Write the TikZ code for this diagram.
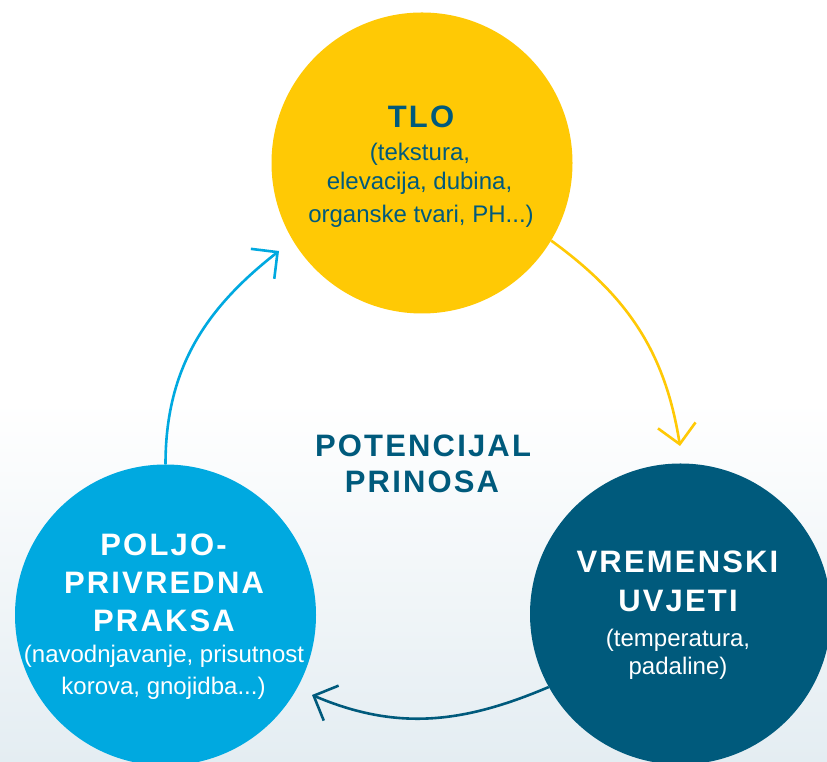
\documentclass[tikz,border=0pt]{standalone}
\usepackage{fontspec}
\setmainfont{Liberation Sans}
\newfontfamily\headfont[LetterSpace=7]{Liberation Sans}
\usetikzlibrary{arrows.meta}
\definecolor{tloyellow}{HTML}{FFC905}
\definecolor{lightblue}{HTML}{00A9E0}
\definecolor{darkteal}{HTML}{005A7C}
\definecolor{bgbottom}{HTML}{E4EDF2}
\begin{document}
\begin{tikzpicture}[x=1pt,y=1pt,
  bubble/.style={circle, minimum size=301pt, inner sep=0pt, draw=none},
  head/.style={anchor=base, inner sep=0pt, font=\headfont\bfseries\fontsize{31}{31}\selectfont},
  sub/.style={anchor=base, inner sep=0pt, font=\fontsize{24}{24}\selectfont},
  flow/.style={line width=2.6pt, -{Straight Barb[length=19pt,width=38pt]}},
]
\useasboundingbox (0,0) rectangle (827,762);
\clip (0,0) rectangle (827,762);
\fill[white] (0,0) rectangle (827,762);
\shade[top color=white, bottom color=bgbottom] (0,0) rectangle (827,360);

% circles
\node[bubble, fill=tloyellow] (tlo) at (422,599) {};
\node[bubble, fill=lightblue] (prak) at (165.5,147) {};
\node[bubble, fill=darkteal] (vrem) at (680.5,148) {};

% arrow tips
\coordinate (ytip) at (680,316);
\coordinate (btip) at (279,511);
\coordinate (dtip) at (312,67);

\draw[flow, tloyellow] (tlo.-31) to[out=-36, in=99] (ytip);
\draw[flow, lightblue] (prak.90) to[out=90, in=218] (btip);
\draw[flow, darkteal] (vrem.209) to[out=203, in=-23] (dtip);

% TLO text
\node[head, text=darkteal] (tloh) at (421,634.3) {TLO};
\node[sub, text=darkteal] (tlo1) at (420,601) {(tekstura,};
\node[sub, text=darkteal] (tlo2) at (419.5,572) {elevacija, dubina,};
\node[sub, text=darkteal] (tlo3) at (421,539.3) {organske tvari, PH...)};

% centre text
\node[head, text=darkteal] (pot1) at (423,305) {POTENCIJAL};
\node[head, text=darkteal] (pot2) at (422,269) {PRINOSA};

% left text
\node[head, text=white] (pr1) at (163.5,206) {POLJO-};
\node[head, text=white] (pr2) at (164,168) {PRIVREDNA};
\node[head, text=white] (pr3) at (164,130) {PRAKSA};
\node[sub, text=white] (pr4) at (164,99) {(navodnjavanje, prisutnost};
\node[sub, text=white] (pr5) at (163.5,67) {korova, gnojidba...)};

% right text
\node[head, text=white] (vr1) at (677.5,189) {VREMENSKI};
\node[head, text=white] (vr2) at (678,150) {UVJETI};
\node[sub, text=white] (vr3) at (678,115) {(temperatura,};
\node[sub, text=white] (vr4) at (678,87) {padaline)};
\end{tikzpicture}
\end{document}
